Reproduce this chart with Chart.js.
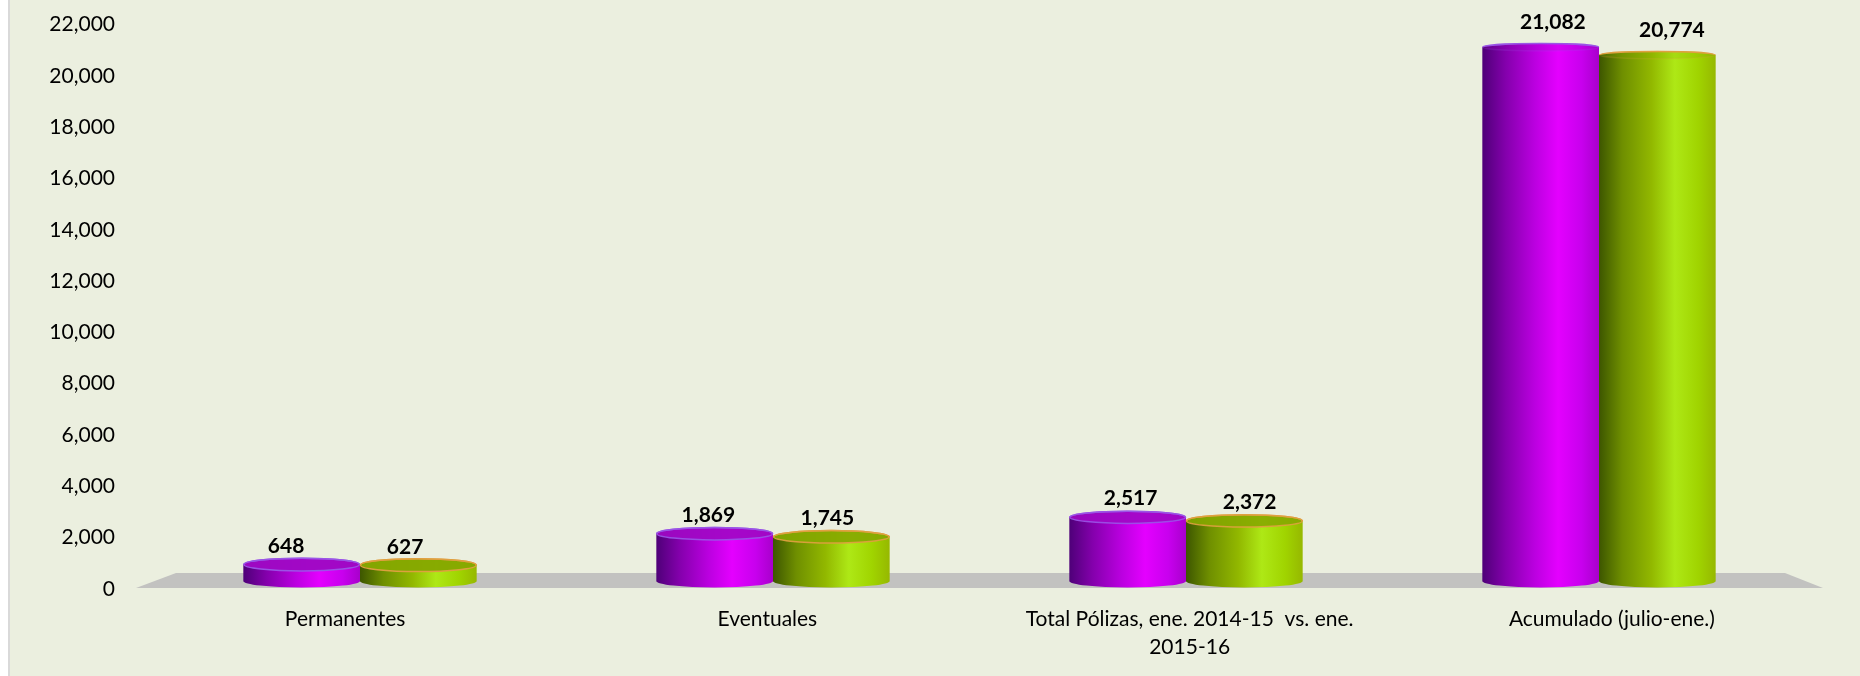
<!DOCTYPE html>
<html>
<head>
<meta charset="utf-8">
<script src="https://cdn.jsdelivr.net/npm/chart.js@4"></script>
<style>
html, body { margin: 0; padding: 0; background: #fff; overflow: hidden; }
#frame { position: absolute; left: 8px; top: 0; width: 1852px; height: 676px; background: #ebefdf; border-left: 2px solid #d9d9d9; box-sizing: border-box; }
#wrap { position: absolute; left: 0; top: 0; width: 1860px; height: 676px; }
</style>
</head>
<body>
<div id="frame"></div>
<div id="wrap"><canvas id="myChart"></canvas></div>
<script>
const categories = ['Permanentes', 'Eventuales', ['Total Pólizas, ene. 2014-15  vs. ene.', '2015-16'], 'Acumulado (julio-ene.)'];
const serie2014 = [648, 1869, 2517, 21082];
const serie2015 = [627, 1745, 2372, 20774];
const yMax = 22000;
const yStep = 2000;

const fontName = 'Lato, Carlito, Calibri, sans-serif';

const purple = {
  stops: [[0, '#4e0078'], [0.2, '#8400ac'], [0.45, '#bb00e0'], [0.65, '#e400ff'], [0.85, '#c800ee'], [1, '#a800cc']],
  top: '#a008c4', rim: '#9a55e6'
};
const green = {
  stops: [[0, '#3d5600'], [0.2, '#6f8f00'], [0.45, '#92b800'], [0.65, '#aee816'], [0.85, '#a0d400'], [1, '#96b800']],
  top: '#86a800', rim: '#e0a040'
};

function cylinder(c, bar, look, area) {
  let left = bar.x - bar.width / 2;
  let right = bar.x + bar.width / 2;
  let rx = bar.width / 2;
  // high up in the box the top is seen almost edge on
  let f = (area.bottom - bar.y) / (area.bottom - area.top);
  let ry = 6.5 - 3 * f;
  let g = c.createLinearGradient(left, 0, right, 0);
  look.stops.forEach(s => g.addColorStop(s[0], s[1]));
  c.fillStyle = g;
  c.beginPath();
  c.moveTo(left, bar.y);
  c.lineTo(left, bar.base);
  c.ellipse(bar.x, bar.base, rx, 6.5, 0, Math.PI, 0, true);
  c.lineTo(right, bar.y);
  c.ellipse(bar.x, bar.y, rx, ry, 0, 0, Math.PI, true);
  c.closePath();
  c.fill();
  c.globalAlpha = 1 - 0.85 * f;
  c.fillStyle = look.top;
  c.beginPath();
  c.ellipse(bar.x, bar.y, rx - 0.5, ry, 0, 0, Math.PI * 2);
  c.fill();
  c.strokeStyle = look.rim;
  c.lineWidth = 1.5;
  c.stroke();
  c.globalAlpha = 1;
  c.beginPath();
  c.ellipse(bar.x, bar.y, rx - 0.5, ry, 0, Math.PI, 0);
  c.stroke();
}

const box3d = {
  id: 'box3d',
  // the cylinders stand inside the 3d box, so their hidden axes get a smaller range
  afterLayout(chart) {
    let a = chart.chartArea;
    let xb = chart.scales.xBars;
    xb.left = a.left + 19.5;
    xb.right = a.right - 17.5;
    xb.width = xb.right - xb.left;
    xb.configure();
    let yb = chart.scales.yBars;
    yb.top = a.bottom - 565;
    yb.bottom = a.bottom - 8;
    yb.height = yb.bottom - yb.top;
    yb.configure();
  },
  beforeDatasetsDraw(chart) {
    let c = chart.ctx, a = chart.chartArea;
    c.save();
    c.fillStyle = '#c2c2c0';
    c.beginPath();
    c.moveTo(a.left + 2, a.bottom - 1);
    c.lineTo(a.right, a.bottom - 1);
    c.lineTo(a.right - 38, a.bottom - 16);
    c.lineTo(a.left + 42, a.bottom - 16);
    c.closePath();
    c.fill();
    c.restore();
  },
  afterDatasetsDraw(chart) {
    let c = chart.ctx, a = chart.chartArea;
    c.save();
    chart.getDatasetMeta(0).data.forEach(b => cylinder(c, b, purple, a));
    chart.getDatasetMeta(1).data.forEach(b => cylinder(c, b, green, a));
    // value labels follow the visible axes, not the cylinders
    c.fillStyle = '#000';
    c.font = 'bold 21px ' + fontName;
    c.textAlign = 'center';
    c.textBaseline = 'middle';
    [[serie2014, -59], [serie2015, 60]].forEach(([vals, dx]) => {
      vals.forEach((v, i) => {
        let x = chart.scales.x.getPixelForValue(i) + dx;
        let y = chart.scales.y.getPixelForValue(v) - 26;
        c.fillText(v.toLocaleString('en-US'), x, y);
      });
    });
    c.restore();
  }
};

const ctx = document.getElementById('myChart');

let config = {
  type: 'bar',
  data: {
    labels: categories,
    datasets: [
      { label: '2014-15', data: serie2014, xAxisID: 'xBars', yAxisID: 'yBars', backgroundColor: 'rgba(0,0,0,0)', categoryPercentage: 0.565, barPercentage: 1 },
      { label: '2015-16', data: serie2015, xAxisID: 'xBars', yAxisID: 'yBars', backgroundColor: 'rgba(0,0,0,0)', categoryPercentage: 0.565, barPercentage: 1 }
    ]
  },
  options: {
    responsive: true,
    maintainAspectRatio: false,
    animation: false,
    layout: { padding: { left: 30, right: 37, top: 24.5, bottom: 0 } },
    plugins: { legend: { display: false }, title: { display: false }, tooltip: { enabled: false } },
    scales: {
      x: {
        type: 'category',
        position: 'bottom',
        grid: { display: false, drawTicks: false, tickLength: 0 },
        border: { display: false },
        afterFit(axis) { axis.height = 87; },
        ticks: { color: '#000', padding: 16, maxRotation: 0, autoSkip: false, font: { family: fontName, size: 21, lineHeight: 1.33 } }
      },
      y: {
        type: 'linear',
        position: 'left',
        min: 0,
        max: yMax,
        grid: { display: false, drawTicks: false, tickLength: 0 },
        border: { display: false },
        afterFit(axis) { axis.width = 104; axis.paddingTop = 0; axis.paddingBottom = 0; },
        ticks: { stepSize: yStep, color: '#000', padding: 19, font: { family: fontName, size: 21 }, callback: v => v.toLocaleString('en-US') }
      },
      xBars: { type: 'category', display: false },
      yBars: { type: 'linear', display: false, min: 0, max: yMax }
    }
  },
  plugins: [box3d]
};

let bar = new Chart(ctx, config);
</script>
</body>
</html>
